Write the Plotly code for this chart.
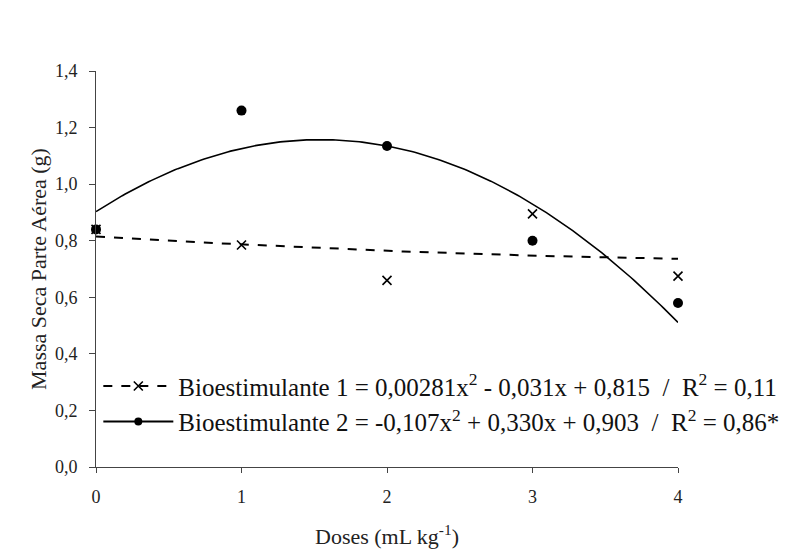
import numpy as np
import plotly.graph_objects as go

doses = [0, 1, 2, 3, 4]
bio1 = [0.84, 0.785, 0.66, 0.895, 0.675]
bio2 = [0.84, 1.26, 1.135, 0.80, 0.58]
coef1 = [0.00281, -0.031, 0.815]
coef2 = [-0.107, 0.330, 0.903]
name1 = "Bioestimulante 1 = 0,00281x<sup>2</sup> - 0,031x + 0,815 &nbsp;/ &nbsp;R<sup>2</sup> = 0,11"
name2 = "Bioestimulante 2 = -0,107x<sup>2</sup> + 0,330x + 0,903 &nbsp;/ &nbsp;R<sup>2</sup> = 0,86*"

xf = np.linspace(0, 4, 200)
y1 = np.polyval(coef1, xf)
y2 = np.polyval(coef2, xf)

font = "Liberation Serif, Times New Roman, serif"
fig = go.Figure()
fig.add_trace(go.Scatter(x=xf, y=y1, mode="lines", line=dict(color="black", width=2, dash="dash"), showlegend=False))
fig.add_trace(go.Scatter(x=xf, y=y2, mode="lines", line=dict(color="black", width=1.6), showlegend=False))
fig.add_trace(go.Scatter(x=doses, y=bio1, mode="markers", cliponaxis=False,
                         marker=dict(symbol="x-thin", size=9, line=dict(color="black", width=1.6), color="black"), showlegend=False))
fig.add_trace(go.Scatter(x=doses, y=bio2, mode="markers", cliponaxis=False,
                         marker=dict(symbol="circle", size=10, color="black"), showlegend=False))
fig.add_trace(go.Scatter(x=[None], y=[None], mode="lines+markers", name=name1,
                         line=dict(color="black", width=2, dash="dash"),
                         marker=dict(symbol="x-thin", size=9, line=dict(color="black", width=1.6), color="black")))
fig.add_trace(go.Scatter(x=[None], y=[None], mode="lines+markers", name=name2,
                         line=dict(color="black", width=2),
                         marker=dict(symbol="circle", size=8, color="black")))

fig.update_layout(
    width=806, height=549,
    margin=dict(l=96, r=128, t=71, b=82),
    paper_bgcolor="white", plot_bgcolor="white",
    separators=",.",
    font=dict(family=font, color="#222", size=18),
    showlegend=True,
    legend=dict(x=0.004, y=0.262, xanchor="left", yanchor="top", bgcolor="rgba(0,0,0,0)",
                font=dict(family=font, size=25, color="#111"), tracegroupgap=0, itemwidth=70),
    xaxis=dict(range=[0, 4], tickvals=[0, 1, 2, 3, 4], showline=True, linecolor="#444", linewidth=1,
               ticks="outside", ticklen=5, tickcolor="#444", showgrid=False, zeroline=False,
               ticklabelstandoff=8, automargin=False,
               title=dict(text="Doses (mL kg<sup>-1</sup>)", standoff=31), tickfont=dict(size=18)),
    yaxis=dict(range=[0, 1.4], tickvals=[0, 0.2, 0.4, 0.6, 0.8, 1.0, 1.2, 1.4], tickformat=".1f",
               showline=True, linecolor="#444", linewidth=1, ticks="outside", ticklen=6, tickcolor="#444",
               ticklabelstandoff=8, automargin=False,
               showgrid=False, zeroline=False, title=dict(text="Massa Seca Parte Aérea (g)", standoff=2),
               tickfont=dict(size=18)),
)
fig.write_html("out.html")
